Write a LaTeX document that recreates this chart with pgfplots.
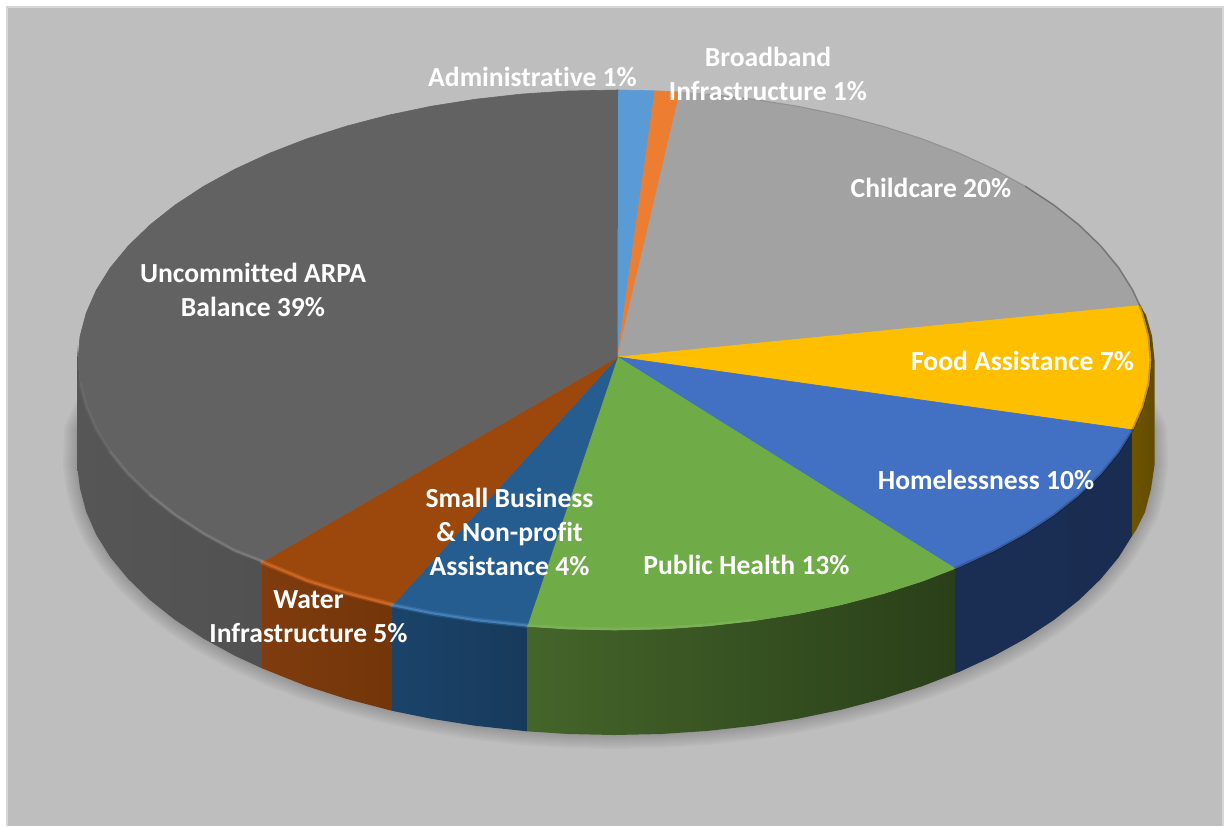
\documentclass[border=0pt]{standalone}
\usepackage{fontspec}
\setmainfont{Carlito}[Ligatures=NoCommon]
\usepackage{pgfplots}
\usepackage{pgfplotstable}
\pgfplotsset{compat=1.18}

\definecolor{panel}{HTML}{BEBEBE}
\definecolor{panelline}{HTML}{D6D6D6}
\definecolor{admin}{HTML}{5B9BD5}
\definecolor{broadband}{HTML}{ED7D31}
\definecolor{childcare}{HTML}{A2A2A2}
\definecolor{food}{HTML}{FEBF00}
\definecolor{homeless}{HTML}{4270C2}
\definecolor{health}{HTML}{6FAB47}
\definecolor{smallbiz}{HTML}{265D91}
\definecolor{water}{HTML}{9C480D}
\definecolor{uncommitted}{HTML}{626262}
% wall tones, lit side and shaded side
\definecolor{grayA}{HTML}{565656}\definecolor{grayB}{HTML}{515151}
\definecolor{waterA}{HTML}{7F3C0E}\definecolor{waterB}{HTML}{733509}
\definecolor{bizA}{HTML}{1B4369}\definecolor{bizB}{HTML}{173A5C}
\definecolor{healthA}{HTML}{44652A}\definecolor{healthB}{HTML}{2A3F19}
\definecolor{homeA}{HTML}{1A2E54}\definecolor{homeB}{HTML}{1A2C50}
\definecolor{foodA}{HTML}{6E5400}\definecolor{foodB}{HTML}{634C00}

\tikzset{
  slice/.style={fill=#1, draw=#1, line width=0.3pt, line join=round},
  wall/.style 2 args={left color=#1, right color=#2, draw=none},
  rim/.style={draw=#1, line join=round, line cap=round},
  lab/.style={text=white, align=center, inner sep=0pt,
    font=\fontsize{13.8}{17}\selectfont\bfseries},
}

% Outline of the foot of the disc, used for the soft shadow around it;
% both ends turn in under the disc so that the shadow tapers off
\pgfplotstableread{
x y
100 385
78 430
77 465
80 488.5
86.2 511.9
96.3 534.9
110.3 557.3
128.3 579.1
149.9 600
175 619.9
203.5 638.6
235.1 655.9
269.6 671.8
306.8 686.2
346.2 698.8
387.8 709.7
431 718.7
475.7 725.8
521.4 730.9
567.7 734
614.5 735
661.3 734
707.6 730.9
753.3 725.8
798 718.7
841.2 709.7
882.8 698.8
922.2 686.2
959.4 671.8
993.9 655.9
1025.5 638.6
1054 619.9
1079.1 600
1100.7 579.1
1118.7 557.3
1132.7 534.9
1145 512
1151 489
1154 465
1153 430
1130 385
}\footoutline

\begin{document}
\begin{tikzpicture}
\begin{axis}[
  scale only axis, width=612.5pt, height=413pt,
  xmin=0, xmax=1225, ymin=0, ymax=826, y dir=reverse,
  hide axis,
]
% panel behind the disc
\addplot[fill=white, draw=none] coordinates {(0,0) (1225,0) (1225,826) (0,826)};
\addplot[fill=panel, draw=none] coordinates {(7,7) (1223,7) (1223,826) (7,826)};
\addplot[draw=panelline, line width=0.7pt] coordinates {(7,826) (7,7) (1223,7) (1223,826)};

% soft shadow: the same outline stroked at growing widths
\pgfplotsinvokeforeach{2,4,6,8,10,12,14}{
  \addplot[draw=black, opacity=0.028, line width=#1pt, line join=round, line cap=round]
    table {\footoutline};
}

% side walls
\addplot[wall={grayA}{grayB}] coordinates {(77,345) (78,360) (80,383.5) (86.2,406.9) (96.3,429.9) (110.3,452.3) (128.3,474.1) (149.9,495) (175,514.9) (203.5,533.6) (235.1,550.9) (262,562) (262,668.3) (235.1,655.9) (203.5,638.6) (175,619.9) (149.9,600) (128.3,579.1) (110.3,557.3) (96.3,534.9) (86.2,511.9) (80,488.5) (77,465)};
\addplot[wall={waterA}{waterB}] coordinates {(262,562) (306.8,581.2) (346.2,593.8) (392,605.7) (392,710.8) (346.2,698.8) (306.8,686.2) (262,668.3)};
\addplot[wall={bizA}{bizB}] coordinates {(392,605.7) (431,613.7) (475.7,620.8) (527,626.3) (527,731.3) (475.7,725.8) (431,718.7) (392,710.8)};
\addplot[wall={healthA}{healthB}] coordinates {(527,626.3) (567.7,629) (614.5,630) (661.3,629) (707.6,625.9) (753.3,620.8) (798,613.7) (841.2,604.7) (882.8,593.8) (922.2,581.2) (955,568.5) (955,673.5) (922.2,686.2) (882.8,698.8) (841.2,709.7) (798,718.7) (753.3,725.8) (707.6,730.9) (661.3,734) (614.5,735) (567.7,734) (527,731.3)};
\addplot[wall={homeA}{homeB}] coordinates {(955,568.5) (959.4,566.8) (993.9,550.9) (1025.5,533.6) (1054,514.9) (1079.1,495) (1100.7,474.1) (1118.7,452.3) (1132.7,429.9) (1132.7,534.9) (1118.7,557.3) (1100.7,579.1) (1079.1,600) (1054,619.9) (1025.5,638.6) (993.9,655.9) (959.4,671.8) (955,673.5)};
\addplot[wall={foodA}{foodB}] coordinates {(1132.7,429.9) (1142.8,406.9) (1149,383.5) (1151,360) (1149,336.5) (1142.8,313.1) (1139.8,305.5) (1146,315) (1152,336) (1154.5,360) (1154.5,465) (1151,489) (1145,512) (1136,530) (1132.7,534.9)};

% top face, one wedge per category, clockwise from twelve o'clock
\addplot[slice=admin] coordinates {(617.5,357) (618,90) (655,90.8)};
\addplot[slice=broadband] coordinates {(617.5,357) (655,90.8) (680,92)};
\addplot[slice=childcare] coordinates {(617.5,357) (680,92) (707.6,94.1) (753.3,99.2) (798,106.3) (841.2,115.3) (882.8,126.2) (922.2,138.8) (959.4,153.2) (993.9,169.1) (1025.5,186.4) (1054,205.1) (1079.1,225) (1100.7,245.9) (1118.7,267.7) (1132.7,290.1) (1139.8,305.5)};
\addplot[slice=food] coordinates {(617.5,357) (1139.8,305.5) (1142.8,313.1) (1149,336.5) (1151,360) (1149,383.5) (1142.8,406.9) (1132.7,429.9)};
\addplot[slice=homeless] coordinates {(617.5,357) (1132.7,429.9) (1118.7,452.3) (1100.7,474.1) (1079.1,495) (1054,514.9) (1025.5,533.6) (993.9,550.9) (959.4,566.8) (955,568.5)};
\addplot[slice=health] coordinates {(617.5,357) (955,568.5) (922.2,581.2) (882.8,593.8) (841.2,604.7) (798,613.7) (753.3,620.8) (707.6,625.9) (661.3,629) (614.5,630) (567.7,629) (527,626.3)};
\addplot[slice=smallbiz] coordinates {(617.5,357) (527,626.3) (475.7,620.8) (431,613.7) (392,605.7)};
\addplot[slice=water] coordinates {(617.5,357) (392,605.7) (346.2,593.8) (306.8,581.2) (262,562)};
\addplot[slice=uncommitted] coordinates {(617.5,357) (262,562) (235.1,550.9) (203.5,533.6) (175,514.9) (149.9,495) (128.3,474.1) (110.3,452.3) (96.3,429.9) (86.2,406.9) (80,383.5) (78,360) (80,336.5) (86.2,313.1) (96.3,290.1) (110.3,267.7) (128.3,245.9) (149.9,225) (175,205.1) (203.5,186.4) (235.1,169.1) (269.6,153.2) (306.8,138.8) (346.2,126.2) (387.8,115.3) (431,106.3) (475.7,99.2) (521.4,94.1) (567.7,91) (618,90)};

% bevel along the front edge, fading out towards the left
\addplot[rim=white, opacity=0.04, line width=2pt] coordinates {(80,383.5) (86.2,406.9) (96.3,429.9) (110.3,452.3) (128.3,474.1) (149.9,495) (175,514.9) (203.5,533.6) (235.1,550.9) (262,561)};
\addplot[rim=white, opacity=0.05, line width=1.6pt] coordinates {(110.3,452.3) (128.3,474.1) (149.9,495) (175,514.9) (203.5,533.6) (235.1,550.9) (262,561)};
\addplot[rim=white, opacity=0.07, line width=1.1pt] coordinates {(149.9,495) (175,514.9) (203.5,533.6) (235.1,550.9) (262,561)};
\addplot[rim=broadband, opacity=0.30, line width=2.4pt] coordinates {(262,562) (306.8,580.5) (346.2,593) (392,604.7)};
\addplot[rim=broadband, opacity=0.45, line width=0.9pt] coordinates {(262,562) (306.8,580.5) (346.2,593) (392,604.7)};
\addplot[rim=admin, opacity=0.25, line width=2.4pt] coordinates {(392,605) (431,613) (475.7,620) (527,625.5)};
\addplot[rim=admin, opacity=0.45, line width=0.9pt] coordinates {(392,605) (431,613) (475.7,620) (527,625.5)};
\addplot[rim=white, opacity=0.08, line width=1.4pt] coordinates {(527,625.5) (567.7,628) (614.5,629) (661.3,628) (707.6,625) (753.3,620)};
\addplot[rim=black, opacity=0.18, line width=1.4pt] coordinates {(955,568.5) (993.9,550.9) (1025.5,533.6) (1054,514.9) (1079.1,495) (1100.7,474.1) (1118.7,452.3) (1132.7,429.9)};
\addplot[rim=black, opacity=0.22, line width=1.4pt] coordinates {(1132.7,429.9) (1142.8,406.9) (1149,383.5) (1151,360) (1149,336.5) (1142.8,313.1) (1139.8,305.5)};
\addplot[rim=black, opacity=0.28, line width=0.8pt] coordinates {(1025.5,186.4) (1054,205.1) (1079.1,225) (1100.7,245.9) (1118.7,267.7) (1132.7,290.1) (1139.8,305.5)};
\addplot[rim=black, opacity=0.10, line width=0.6pt] coordinates {(707.6,94.1) (753.3,99.2) (798,106.3) (841.2,115.3) (882.8,126.2) (922.2,138.8) (959.4,153.2) (993.9,169.1) (1025.5,186.4)};

% category labels
\node[lab] at (axis cs:532.5,80) {\strut Administrative 1\%};
\node[lab] at (axis cs:768,77) {\strut Broadband\\\strut Infrastructure 1\%};
\node[lab] at (axis cs:931,191) {\strut Childcare 20\%};
\node[lab] at (axis cs:1022.5,364) {\strut Food Assistance 7\%};
\node[lab] at (axis cs:986,483) {\strut Homelessness 10\%};
\node[lab] at (axis cs:746.5,568) {\strut Public Health 13\%};
\node[lab] at (axis cs:509.5,535) {\strut Small Business\\\strut \& Non-profit\\\strut Assistance 4\%};
\node[lab] at (axis cs:308.5,619) {\strut Water\\\strut Infrastructure 5\%};
\node[lab] at (axis cs:253,292.5) {\strut Uncommitted ARPA\\\strut Balance 39\%};
\end{axis}
\end{tikzpicture}
\end{document}
